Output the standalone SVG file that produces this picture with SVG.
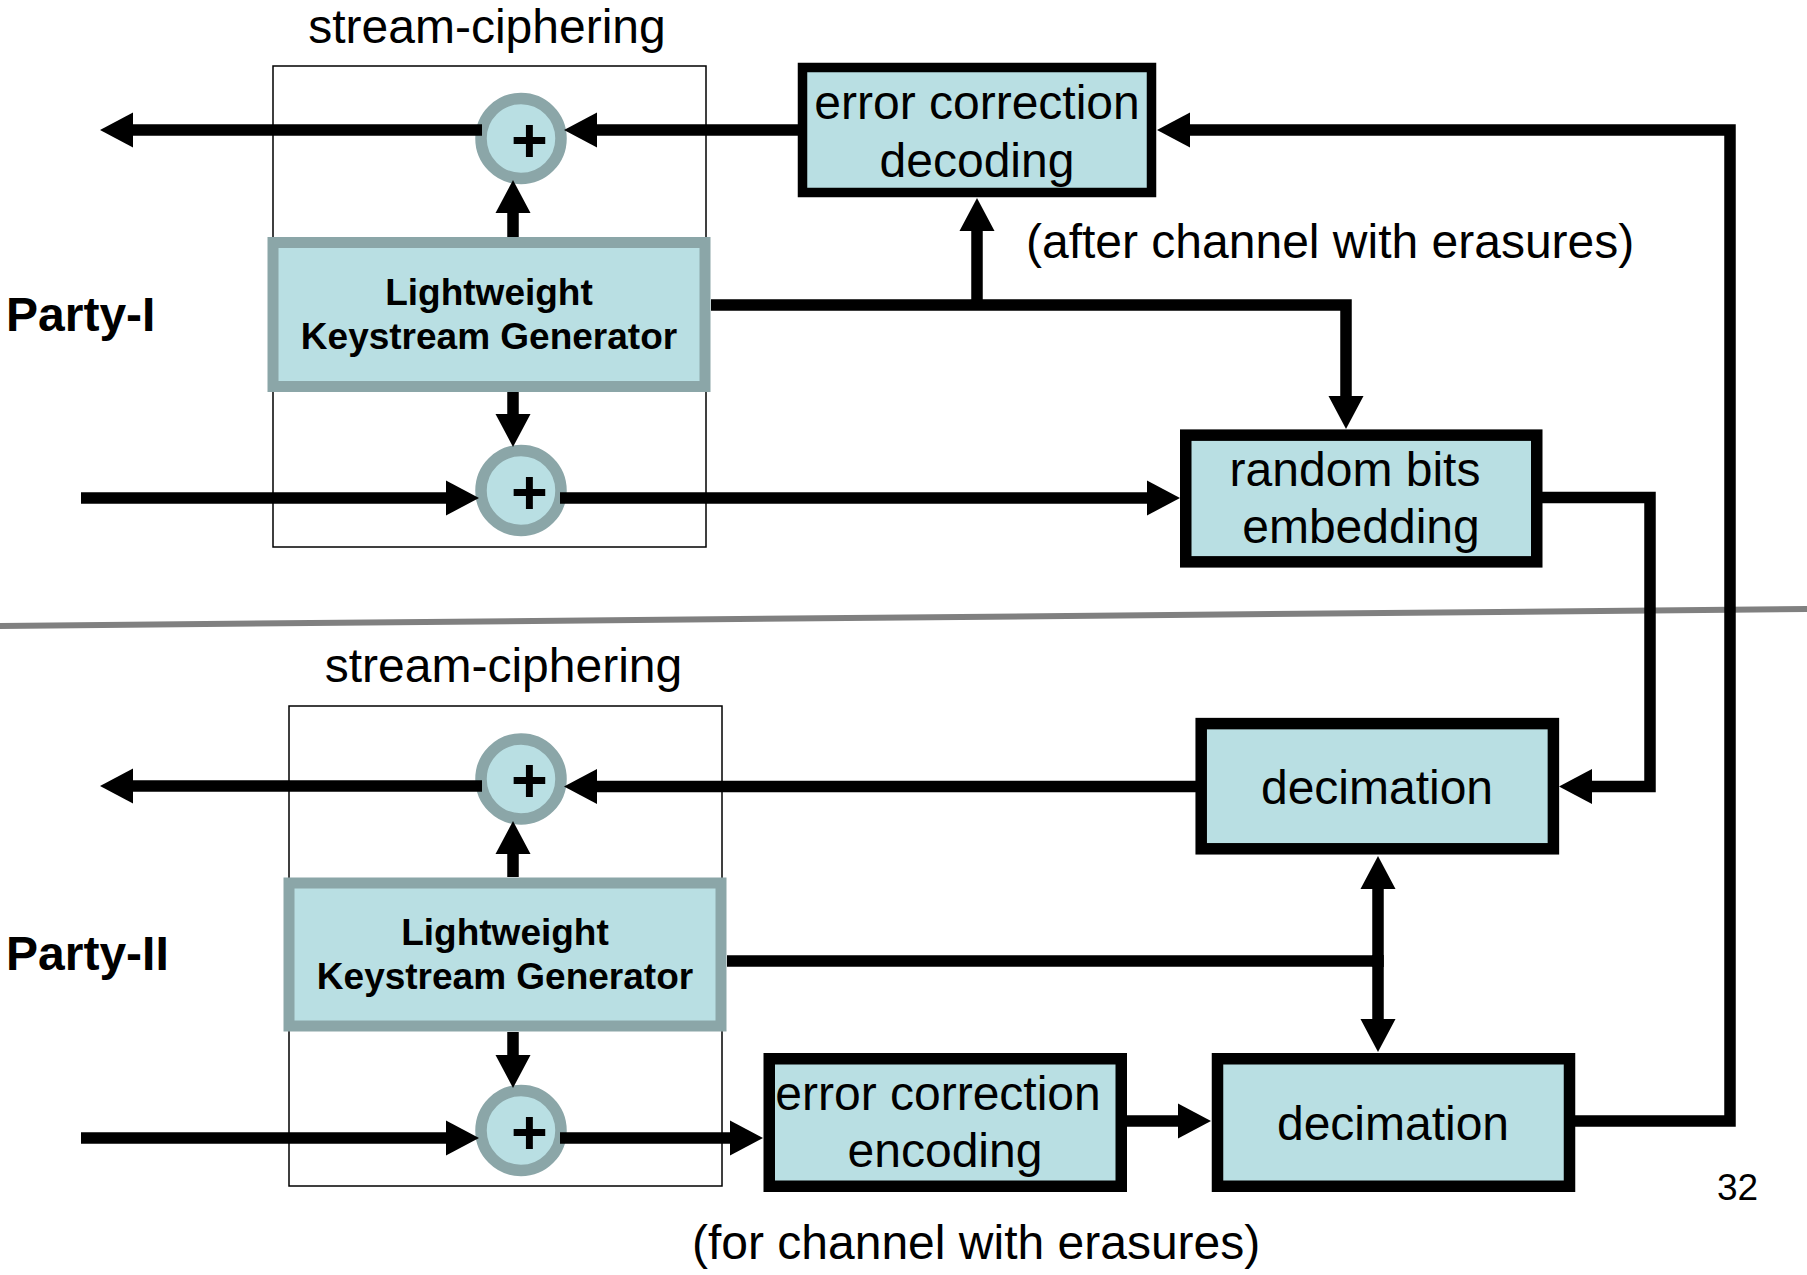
<svg xmlns="http://www.w3.org/2000/svg" width="1807" height="1275" viewBox="0 0 1807 1275">
  <style>
    .frame { fill: none; stroke: #000; stroke-width: 1.5; }
    .kg { fill: #b9dfe3; stroke: #8ba6a8; stroke-width: 11; }
    .xor { fill: #b9dfe3; stroke: #8ba6a8; stroke-width: 11.5; }
    .blk { fill: #b9dfe3; stroke: #000; stroke-width: 11.5; }
    .blk.thin { stroke-width: 9.5; }
    .wire { fill: none; stroke: #000; stroke-width: 11.5; stroke-linejoin: miter; stroke-linecap: butt; }
    .arrow { marker-end: url(#head); }
    text { font-family: "Liberation Sans", Arial, sans-serif; fill: #000; }
    .lbl { font-size: 48px; }
    .c { text-anchor: middle; }
    .b { font-weight: bold; }
    .kgt { font-size: 37px; font-weight: bold; text-anchor: middle; }
    .plus { font-size: 63px; font-weight: bold; text-anchor: middle; }
  </style>
  <defs>
    <marker id="head" markerUnits="userSpaceOnUse" viewBox="0 -18 34 36" markerWidth="34" markerHeight="36" refX="1" refY="0" orient="auto">
      <path d="M0,-17.5 L33,0 L0,17.5 z" fill="#000"/>
    </marker>
  </defs>

  <rect width="1807" height="1275" fill="#fff"/>

  <!-- stream-ciphering frames -->
  <g id="frame-party1">
    <rect class="frame" x="273" y="66" width="433" height="481"/>
    <text class="lbl c" x="487" y="43">stream-ciphering</text>
  </g>
  <g id="frame-party2">
    <rect class="frame" x="289" y="706" width="433" height="480"/>
    <text class="lbl c" x="503.5" y="682">stream-ciphering</text>
  </g>

  <!-- divider between the two parties -->
  <line x1="0" y1="626" x2="1807" y2="609" stroke="#808080" stroke-width="6"/>

  <g id="party1-label"><text class="lbl b" x="6" y="331">Party-I</text></g>
  <g id="party2-label"><text class="lbl b" x="6" y="970">Party-II</text></g>

  <!-- Party-I nodes -->
  <g id="kg1">
    <rect class="kg" x="273" y="242.5" width="432" height="144"/>
    <text class="kgt" x="489" y="305">Lightweight</text>
    <text class="kgt" x="489" y="349">Keystream Generator</text>
  </g>
  <g id="xor1-top">
    <circle class="xor" cx="521" cy="138.5" r="40"/>
    <text class="plus" x="529.5" y="161.5">+</text>
  </g>
  <g id="xor1-bottom">
    <circle class="xor" cx="521" cy="490.5" r="40"/>
    <text class="plus" x="529.5" y="513.5">+</text>
  </g>
  <g id="ec-decoding">
    <rect class="blk thin" x="802.5" y="67.5" width="349" height="125"/>
    <text class="lbl c" x="977" y="119">error correction</text>
    <text class="lbl c" x="977" y="177">decoding</text>
  </g>
  <g id="after-note"><text class="lbl" x="1026" y="258">(after channel with erasures)</text></g>
  <g id="random-bits">
    <rect class="blk" x="1185.75" y="435.15" width="351" height="126.7"/>
    <text class="lbl c" x="1355" y="486">random bits</text>
    <text class="lbl c" x="1361" y="543">embedding</text>
  </g>

  <!-- Party-II nodes -->
  <g id="kg2">
    <rect class="kg" x="289" y="883" width="432" height="143"/>
    <text class="kgt" x="505" y="945">Lightweight</text>
    <text class="kgt" x="505" y="989">Keystream Generator</text>
  </g>
  <g id="xor2-top">
    <circle class="xor" cx="521" cy="779" r="40"/>
    <text class="plus" x="529.5" y="802">+</text>
  </g>
  <g id="xor2-bottom">
    <circle class="xor" cx="521" cy="1130.5" r="40"/>
    <text class="plus" x="529.5" y="1153.5">+</text>
  </g>
  <g id="decimation-top">
    <rect class="blk" x="1201.2" y="723.6" width="352.2" height="125.2"/>
    <text class="lbl c" x="1377" y="804">decimation</text>
  </g>
  <g id="ec-encoding">
    <rect class="blk" x="769.25" y="1058.75" width="352" height="127.5"/>
    <text class="lbl c" x="938" y="1110">error correction</text>
    <text class="lbl c" x="945" y="1167">encoding</text>
  </g>
  <g id="decimation-bottom">
    <rect class="blk" x="1217.5" y="1058.75" width="352" height="127.5"/>
    <text class="lbl c" x="1393" y="1140">decimation</text>
  </g>
  <g id="for-note"><text class="lbl" x="692" y="1259">(for channel with erasures)</text></g>
  <g id="page-number"><text x="1717" y="1200" font-size="37">32</text></g>

  <!-- connectors -->
  <g id="connectors">
    <!-- Party-I -->
    <path class="wire arrow" d="M482,130 H132"/>
    <path class="wire arrow" d="M798,130 H596"/>
    <path class="wire arrow" d="M513,237 V212"/>
    <path class="wire arrow" d="M513,392 V415"/>
    <path class="wire arrow" d="M81,498 H447"/>
    <path class="wire arrow" d="M560,498 H1148"/>
    <path class="wire arrow" d="M711,305 H1346 V397"/>
    <path class="wire arrow" d="M977,305 V230"/>
    <path class="wire arrow" d="M1542,497.5 H1650 V786.5 H1591"/>
    <path class="wire arrow" d="M1575,1121 H1730 V130 H1189"/>
    <!-- Party-II -->
    <path class="wire arrow" d="M482,786 H132"/>
    <path class="wire arrow" d="M1196,786.5 H596"/>
    <path class="wire arrow" d="M513,877 V853"/>
    <path class="wire arrow" d="M513,1032 V1056"/>
    <path class="wire arrow" d="M81,1138 H447"/>
    <path class="wire arrow" d="M560,1138 H731"/>
    <path class="wire" d="M727,961 H1378"/>
    <path class="wire arrow" d="M1378,967 V888"/>
    <path class="wire arrow" d="M1378,955 V1020"/>
    <path class="wire arrow" d="M1127,1121 H1179"/>
  </g>
</svg>
